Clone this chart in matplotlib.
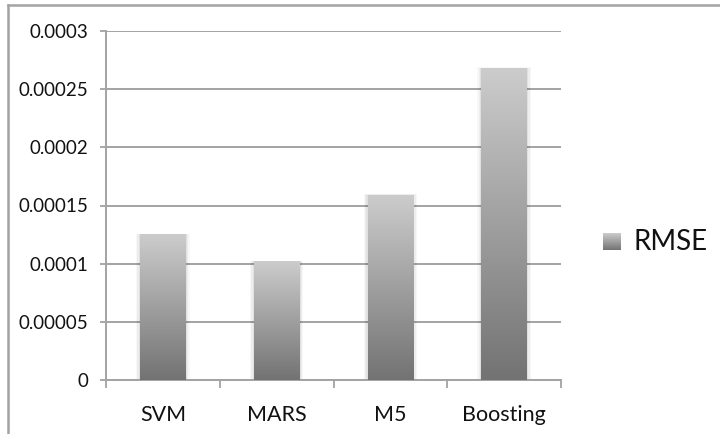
import matplotlib
matplotlib.use("Agg")
import matplotlib.pyplot as plt
import numpy as np
from matplotlib.lines import Line2D
from matplotlib.patches import Rectangle

categories = ["SVM", "MARS", "M5", "Boosting"]
rmse = [0.000125, 0.000102, 0.000159, 0.000268]
y_ticks = [0, 0.00005, 0.0001, 0.00015, 0.0002, 0.00025, 0.0003]
y_tick_labels = ["0", "0.00005", "0.0001", "0.00015", "0.0002", "0.00025", "0.0003"]
series_name = "RMSE"

plt.rcParams["font.family"] = ["Lato", "DejaVu Sans"]

W, H = 720, 434
fig = plt.figure(figsize=(W / 100, H / 100), dpi=100)
ax = fig.add_axes([106 / W, 1 - 380 / H, (561 - 106) / W, (380 - 31) / H])

grid_c = "#a3a3a3"
top_c, bot_c = np.array([0.80, 0.80, 0.80]), np.array([0.45, 0.45, 0.45])
grad = np.linspace(0, 1, 256)[:, None, None]
grad_img = top_c * (1 - grad) + bot_c * grad  # row 0 = top (light)

bar_w = 0.40
n = len(categories)
for i, v in enumerate(rmse):
    x0 = i + 0.5 - bar_w / 2
    # soft shadow around the bar
    for k, a in enumerate([0.05, 0.04, 0.03]):
        d = 0.012 * (k + 1)
        ax.add_patch(Rectangle((x0 - d, 0), bar_w + 2 * d, v + d * 0.00002,
                               facecolor="black", alpha=a, edgecolor="none", zorder=2))
    ax.imshow(grad_img, extent=[x0, x0 + bar_w, 0, v], aspect="auto",
              interpolation="bilinear", zorder=3)

ax.set_xlim(0, n)
ax.set_ylim(0, 0.0003)
ax.set_yticks(y_ticks)
ax.set_yticklabels(y_tick_labels)
ax.yaxis.grid(True, color=grid_c, linewidth=1.4, zorder=0)
ax.set_axisbelow(True)

ax.set_xticks(np.arange(n + 1))
ax.set_xticklabels([])
ax.set_xticks(np.arange(n) + 0.5, minor=True)
ax.set_xticklabels(categories, minor=True)
ax.tick_params(axis="x", which="major", length=6, width=1.3, color=grid_c)
ax.tick_params(axis="x", which="minor", length=0, pad=18, labelsize=15.5, labelcolor="#111111")
ax.tick_params(axis="y", length=4, width=1.3, color=grid_c, pad=9,
               labelsize=13.5, labelcolor="#111111")

for side in ["top", "right"]:
    ax.spines[side].set_visible(False)
for side in ["left", "bottom"]:
    ax.spines[side].set_color(grid_c)
    ax.spines[side].set_linewidth(1.4)

# legend: gradient swatch plus label
lax = fig.add_axes([603 / W, 1 - 250 / H, 18 / W, 17 / H])
lax.imshow(grad_img, aspect="auto", interpolation="bilinear", extent=[0, 1, 0, 1])
lax.set_axis_off()
fig.text(633 / W, 1 - 242 / H, series_name, fontsize=20, va="center", ha="left",
         color="#111111")

# chart area frame
fig.add_artist(Line2D([8 / W, 8 / W], [0, 1 - 4.5 / H], transform=fig.transFigure,
                      color=grid_c, linewidth=1.8))
fig.add_artist(Line2D([8 / W, 1], [1 - 4.5 / H, 1 - 4.5 / H], transform=fig.transFigure,
                      color=grid_c, linewidth=1.8))

fig.savefig("out.png", dpi=100, facecolor="white")
